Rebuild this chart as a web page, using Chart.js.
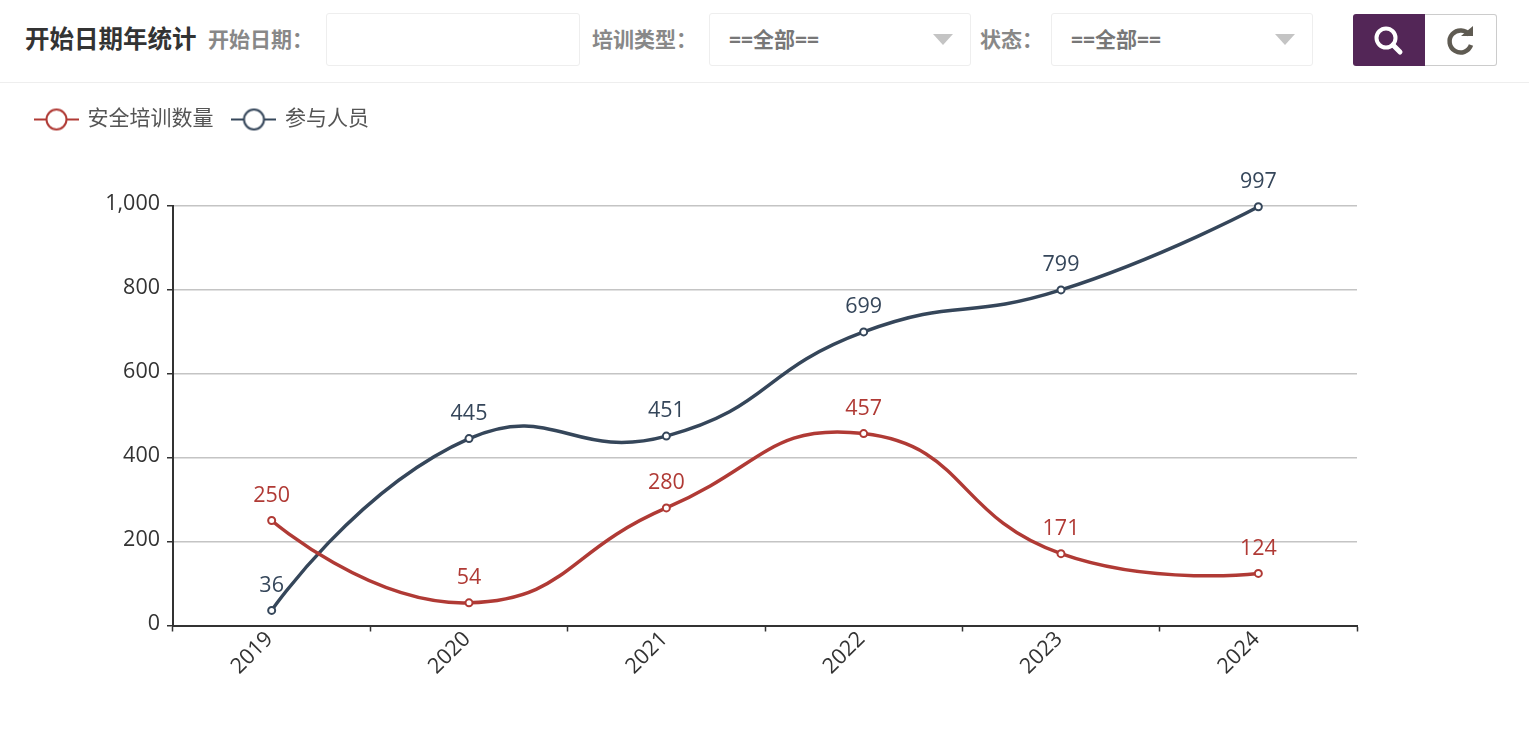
<!DOCTYPE html>
<html lang="zh">
<head>
<meta charset="utf-8">
<title>开始日期年统计</title>
<script src="https://cdn.jsdelivr.net/npm/chart.js@4"></script>
<style>
  html, body { margin: 0; padding: 0; background: #fff; width: 1529px; height: 745px; overflow: hidden; }
  body { font-family: "Open Sans", "Noto Sans CJK SC", sans-serif; position: relative; }
  .bar { position: absolute; left: 0; top: 0; width: 1529px; height: 82px; border-bottom: 1px solid #eee; }
  .bar > * { position: absolute; box-sizing: border-box; }
  .title { left: 25px; top: 22px; font-size: 24.500px; line-height: 34px; font-weight: 700; color: #333; }
  .lbl { top: 24px; font-size: 21px; line-height: 30px; font-weight: 700; color: #888; white-space: nowrap; }
  .box { top: 13px; height: 53px; background: #fff; border: 1px solid #eee; border-radius: 3px; }
  .sel { font-size: 21px; line-height: 50px; font-weight: 700; color: #777; padding-left: 19px; }
  .sel::after { content: ""; position: absolute; right: 17px; top: 20px; border: 10px solid transparent; border-top: 11px solid #c4c4c4; border-bottom: 0; }
  .btn { top: 14px; height: 52px; width: 72px; }
  .go { left: 1353px; background: #532657; border-radius: 3px 0 0 3px; }
  .reset { left: 1425px; background: #fff; border: 1px solid #ccc; border-left: 0; border-radius: 0 3px 3px 0; }
  .btn svg { position: absolute; left: 0; top: 0; }
  #wrap { position: absolute; left: 0; top: 83px; width: 1529px; height: 662px; }
</style>
</head>
<body>
<div class="bar">
  <div class="title">开始日期年统计</div>
  <div class="lbl" style="left:208px">开始日期：</div>
  <div class="box" style="left:326px;width:254px"></div>
  <div class="lbl" style="left:592px">培训类型：</div>
  <div class="box sel" style="left:709px;width:262px">==全部==</div>
  <div class="lbl" style="left:980px">状态：</div>
  <div class="box sel" style="left:1051px;width:262px">==全部==</div>
  <div class="btn go">
    <svg width="72" height="52" viewBox="0 0 72 52">
      <circle cx="33" cy="24" r="9.500" fill="none" stroke="#fff" stroke-width="4"/>
      <line x1="40" y1="31" x2="47" y2="38" stroke="#fff" stroke-width="5" stroke-linecap="round"/>
    </svg>
  </div>
  <div class="btn reset">
    <svg width="72" height="52" viewBox="0 0 72 52">
      <path d="M44.500 20 A11 11 0 1 0 46 30" fill="none" stroke="#5f5b52" stroke-width="4.500"/>
      <path d="M36 21 L48 21 L48 11 Z" fill="#5f5b52"/>
    </svg>
  </div>
</div>
<div id="wrap"><canvas id="chart"></canvas></div>
<script>
  const years = ["2019", "2020", "2021", "2022", "2023", "2024"];
  const trainingCount = [250, 54, 280, 457, 171, 124];
  const participants = [36, 445, 451, 699, 799, 997];
  const yTicks = [0, 200, 400, 600, 800, 1000];

  const RED = "#b03a35";
  const NAVY = "#35465a";
  const FONT = '"Open Sans", "Noto Sans CJK SC", sans-serif';

  // legend symbol: short line with an open circle on it
  function legendIcon(color) {
    const c = document.createElement("canvas");
    c.width = 45;
    c.height = 24;
    const g = c.getContext("2d");
    g.strokeStyle = color;
    g.lineWidth = 2;
    g.beginPath();
    g.moveTo(0, 12);
    g.lineTo(45, 12);
    g.stroke();
    g.beginPath();
    g.arc(22.5, 12, 10, 0, Math.PI * 2);
    g.fillStyle = "#fff";
    g.fill();
    g.stroke();
    return c;
  }

  // keep room under the legend so the plot starts where it should
  const legendRoom = {
    id: "legendRoom",
    beforeInit(chart) {
      const fit = chart.legend.fit;
      chart.legend.fit = function () {
        fit.call(this);
        this.height = 116.5;
      };
    }
  };

  // the end points get no handle of their own, the curve runs straight into them
  const endHandles = {
    id: "endHandles",
    beforeDatasetDraw(chart, args) {
      const line = args.meta.dataset;
      line.updateControlPoints(chart.chartArea);
      const pts = args.meta.data;
      const first = pts[0], last = pts[pts.length - 1];
      first.cp2x = first.x;
      first.cp2y = first.y;
      last.cp1x = last.x;
      last.cp1y = last.y;
    }
  };

  const pointLabels = {
    id: "pointLabels",
    afterDatasetsDraw(chart) {
      const { ctx } = chart;
      ctx.save();
      ctx.font = "21.5px " + FONT;
      ctx.textAlign = "center";
      ctx.textBaseline = "middle";
      chart.data.datasets.forEach((ds, i) => {
        ctx.fillStyle = ds.borderColor;
        chart.getDatasetMeta(i).data.forEach((pt, j) => {
          ctx.fillText(ds.data[j], pt.x, pt.y - 25);
        });
      });
      ctx.restore();
    }
  };

  new Chart(document.getElementById("chart"), {
    type: "line",
    data: {
      labels: years,
      datasets: [
        { label: "安全培训数量", data: trainingCount, borderColor: RED, backgroundColor: "#fff", clip: false },
        { label: "参与人员", data: participants, borderColor: NAVY, backgroundColor: "#fff", clip: false }
      ]
    },
    options: {
      responsive: true,
      maintainAspectRatio: false,
      animation: false,
      layout: { padding: { left: 16, right: 172, top: 6, bottom: 0 } },
      elements: {
        line: { borderWidth: 3.5, tension: 0.5, fill: false, capBezierPoints: false },
        point: { radius: 3.5, borderWidth: 2, hoverRadius: 4 }
      },
      plugins: {
        tooltip: { enabled: false },
        legend: {
          position: "top",
          align: "start",
          labels: {
            usePointStyle: true,
            pointStyleWidth: 41,
            color: "#555",
            font: { family: FONT, size: 21 },
            padding: 20,
            boxHeight: 24,
            generateLabels(chart) {
              return chart.data.datasets.map((ds, i) => ({
                text: ds.label,
                datasetIndex: i,
                fontColor: "#555",
                strokeStyle: ds.borderColor,
                fillStyle: "#fff",
                lineWidth: 0,
                pointStyle: legendIcon(ds.borderColor)
              }));
            }
          }
        }
      },
      scales: {
        x: {
          offset: true,
          afterFit(axis) { axis.height = 119.5; },
          grid: { offset: true, drawOnChartArea: false, drawTicks: true, tickLength: 6, tickColor: "#333", tickWidth: 1.5 },
          border: { color: "#333", width: 2 },
          ticks: { color: "#333", font: { family: FONT, size: 21.5 }, minRotation: 45, maxRotation: 45, padding: -5, labelOffset: -2 }
        },
        y: {
          min: 0,
          max: 1000,
          afterFit(axis) { axis.width = 157; },
          afterBuildTicks(axis) { axis.ticks = yTicks.map(v => ({ value: v })); },
          grid: { color: "#c4c4c4", lineWidth: 1.5, tickLength: 6, tickColor: "#333" },
          border: { color: "#333", width: 2 },
          ticks: { color: "#333", font: { family: FONT, size: 21.5 }, padding: 7, labelOffset: -2 }
        }
      }
    },
    plugins: [legendRoom, endHandles, pointLabels]
  });
</script>
</body>
</html>
